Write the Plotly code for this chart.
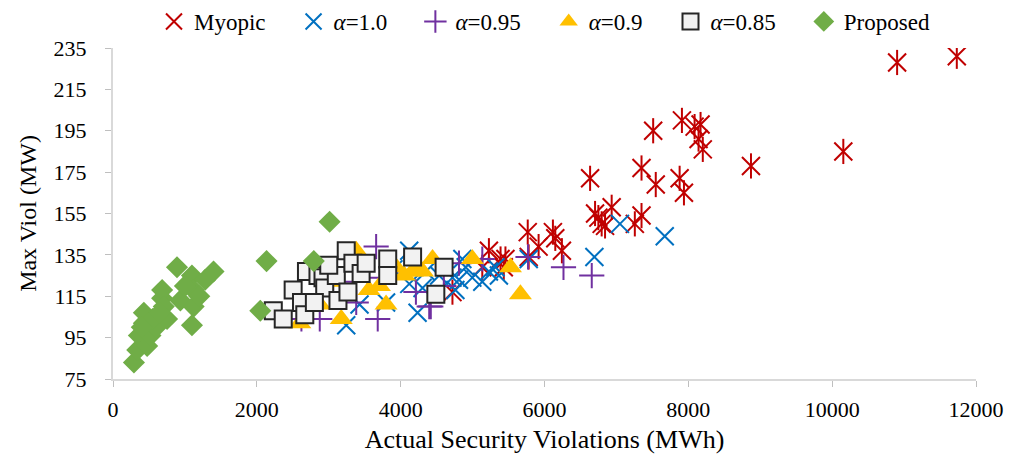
import plotly.graph_objects as go

# Myopic
myopic_x = [4720, 5135, 5227, 5389, 5434, 5457, 5767, 5780, 5918, 6117, 6242, 6150,
            6634, 6703, 6749, 6795, 6842, 6934, 7256, 7349, 7349, 7511, 7547, 7879,
            7911, 7939, 8087, 8142, 8170, 8201, 8871, 10155, 10903, 11733]
myopic_y = [117, 129, 137, 133, 129, 133, 146, 134, 139, 146, 137, 143,
            172, 155, 153, 150, 149, 158, 150, 154, 177, 195, 169, 172,
            200, 165, 197, 191, 198, 186, 178, 185, 228, 231]

# alpha = 1.0
a10_x = [3243, 3428, 3797, 4119, 4120, 4235, 4304, 4535, 4720, 4761, 4811, 4858,
         4904, 4996, 5135, 5227, 5319, 5366, 5781, 6694, 7049, 7672, 3900, 4350]
a10_y = [101, 111, 112, 137, 121, 107, 119, 125, 124, 118, 123, 133,
         129, 124, 122, 127, 129, 125, 133, 134, 150, 144, 128, 127]

# alpha = 0.95
a095_x = [2620, 2875, 3060, 3382, 3540, 3659, 3681, 3900, 4212, 4397, 4419, 4600,
          4811, 5135, 5771, 6264, 6657, 3200]
a095_y = [104, 104, 116, 112, 124, 139, 104, 127, 117, 110, 110, 120,
          131, 133, 134, 129, 125, 122]

# alpha = 0.9
a09_x = [2598, 2875, 3174, 3382, 3705, 3797, 3843, 3936, 4166, 4212, 4304, 4443,
         4996, 5527, 5665, 3560, 3000, 4050]
a09_y = [102, 111, 104, 137, 120, 111, 126, 129, 127, 129, 127, 133,
         133, 129, 116, 118, 122, 125]

# alpha = 0.85
a085_x = [2229, 2367, 2505, 2621, 2667, 2690, 2850, 2920, 2944, 3105, 3128, 3243,
          3267, 3336, 3450, 3520, 3820, 3820, 4166, 4489, 4604, 2800, 3000]
a085_y = [108, 104, 118, 112, 106, 127, 125, 124, 119, 125, 113, 137,
          117, 131, 126, 131, 133, 125, 134, 116, 129, 112, 130]

# Proposed
prop_x = [291, 337, 360, 429, 429, 475, 521, 600, 683, 683, 706, 752, 890, 937,
          1098, 1098, 1121, 1121, 1282, 1398, 2048, 2135, 2792, 3012, 550, 650,
          1200, 1000, 400]
prop_y = [83, 89, 96, 102, 107, 91, 96, 100, 114, 118, 110, 104, 129, 113,
          101, 125, 110, 118, 123, 127, 108, 132, 132, 151, 104, 107,
          115, 120, 100]

x_ticks = [0, 2000, 4000, 6000, 8000, 10000, 12000]
x_tick_text = ["0", "2000", "4000", "6000", "8000", "10000", "12000"]
y_ticks = [75, 95, 115, 135, 155, 175, 195, 215, 235]

FONT = "'Liberation Serif', 'Times New Roman', Times, serif"
RED = "#c00000"
BLUE = "#0070c0"
PURPLE = "#7030a0"
GOLD = "#ffc000"
GREEN = "#70ad47"
PAD = "\u2002\u2002"  # spacing after each legend label

fig = go.Figure()

# Myopic star: an X plus a vertical stroke, drawn as two overlaid traces
fig.add_trace(go.Scatter(
    x=myopic_x, y=myopic_y, mode="markers", name="Myopic" + PAD, legendgroup="myopic",
    marker=dict(symbol="x-thin-open", size=18, line=dict(color=RED, width=2), color=RED)))
fig.add_trace(go.Scatter(
    x=myopic_x, y=myopic_y, mode="markers", name="Myopic", legendgroup="myopic",
    showlegend=False,
    marker=dict(symbol="line-ns-open", size=18, line=dict(color=RED, width=2), color=RED)))

fig.add_trace(go.Scatter(
    x=a10_x, y=a10_y, mode="markers", name="<i>α</i>=1.0" + PAD,
    marker=dict(symbol="x-thin-open", size=18, line=dict(color=BLUE, width=2), color=BLUE)))

fig.add_trace(go.Scatter(
    x=a095_x, y=a095_y, mode="markers", name="<i>α</i>=0.95" + PAD,
    marker=dict(symbol="cross-thin-open", size=18, line=dict(color=PURPLE, width=2), color=PURPLE)))

fig.add_trace(go.Scatter(
    x=a09_x, y=a09_y, mode="markers", name="<i>α</i>=0.9" + PAD,
    marker=dict(symbol="triangle-up", size=20, color=GOLD, line=dict(width=0))))

fig.add_trace(go.Scatter(
    x=a085_x, y=a085_y, mode="markers", name="<i>α</i>=0.85" + PAD,
    marker=dict(symbol="square", size=17, color="#f2f2f2",
                line=dict(color="#262626", width=2))))

fig.add_trace(go.Scatter(
    x=prop_x, y=prop_y, mode="markers", name="Proposed",
    marker=dict(symbol="diamond", size=17, color=GREEN, line=dict(width=0))))

axis_common = dict(
    showgrid=False, zeroline=False, showline=True, linecolor="#d9d9d9", linewidth=2,
    ticks="outside", ticklen=6, tickcolor="#bfbfbf", tickwidth=1,
    tickfont=dict(family=FONT, size=22, color="#000000"),
)

fig.update_xaxes(range=[0, 12000], tickvals=x_ticks, ticktext=x_tick_text,
                 ticklabelstandoff=4,
                 title=dict(text="\u2002\u2002Actual Security Violations (MWh)",
                            font=dict(family=FONT, size=26, color="#000000"), standoff=8),
                 **axis_common)
fig.update_yaxes(range=[75, 235], tickvals=y_ticks, ticklabelstandoff=14,
                 title=dict(text="Max Viol (MW)",
                            font=dict(family=FONT, size=24, color="#000000"), standoff=10),
                 **axis_common)

fig.update_layout(
    width=1014, height=460,
    margin=dict(l=113, r=38, t=48, b=81, autoexpand=False),
    paper_bgcolor="white", plot_bgcolor="white",
    font=dict(family=FONT, size=22, color="#000000"),
    legend=dict(orientation="h", x=0.5, xanchor="center", yref="container",
                y=1.0, yanchor="top", font=dict(family=FONT, size=23),
                bgcolor="rgba(0,0,0,0)"),
    showlegend=True,
)

fig.write_html("out.html")
